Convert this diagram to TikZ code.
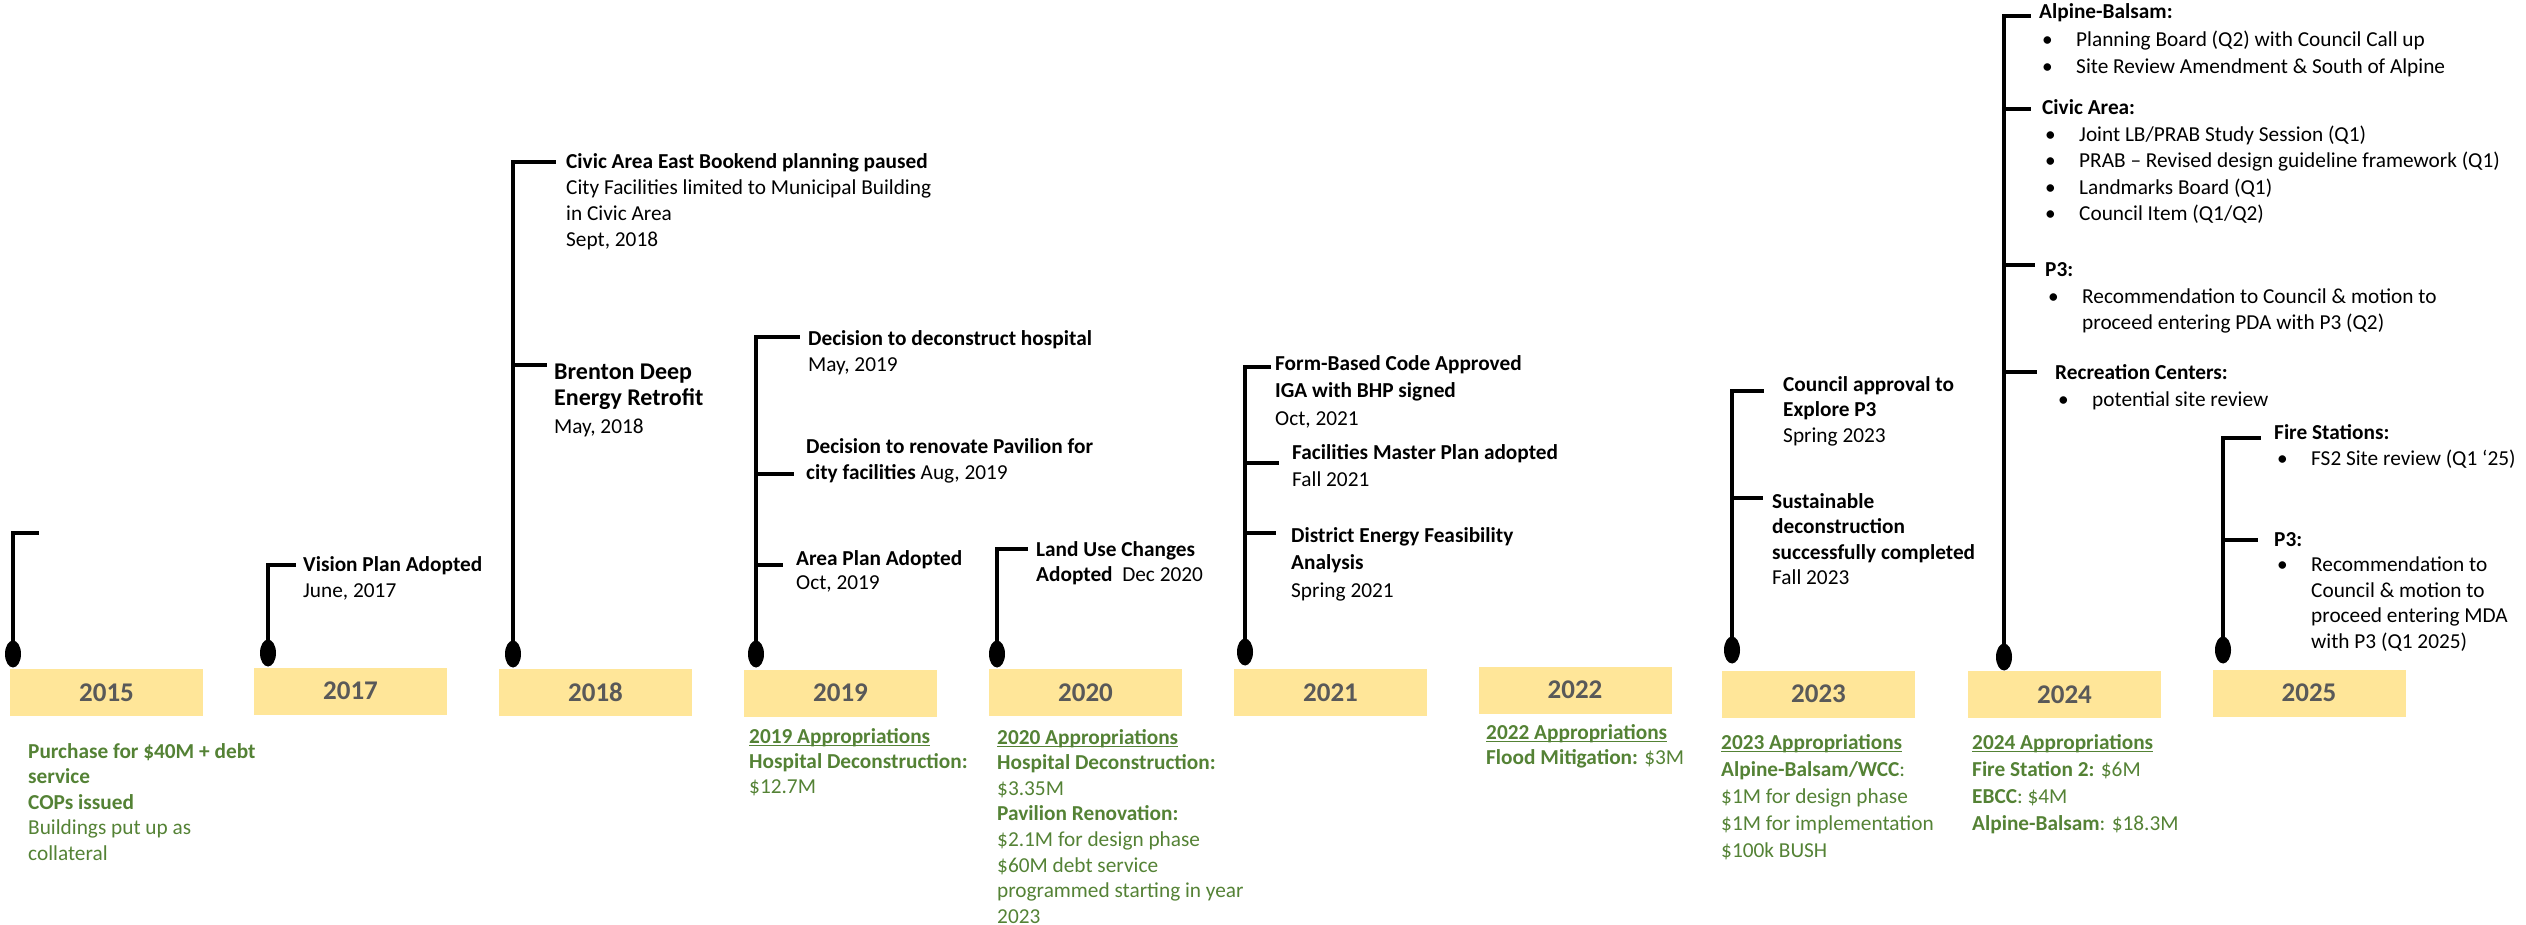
\documentclass[tikz,border=0pt]{standalone}
\usepackage{fontspec}
\setmainfont{Carlito}
\usetikzlibrary{shapes.geometric}
\definecolor{ygold}{HTML}{FFE699}
\definecolor{ygray}{HTML}{595959}
\definecolor{agreen}{HTML}{548235}
\newsavebox\ulbx
\newcommand\ultext[1]{\sbox\ulbx{#1}\rlap{\rule[-3pt]{\wd\ulbx}{1.5pt}}\usebox\ulbx}
\newcommand\bul{\hspace*{3pt}\makebox[34pt][l]{•}}
\newcommand\bulin{\hspace*{37pt}}
\newcommand\lines[1]{\begin{tabular}[t]{@{}l@{}}#1\end{tabular}}
\newcommand\fs[1]{\fontsize{21.3}{#1}\selectfont}
\begin{document}
\begin{tikzpicture}[x=1pt,y=-1pt,
  yearbox/.style={fill=ygold, minimum width=193pt, minimum height=47pt, inner sep=0pt, text=ygray, font=\fontsize{27}{30}\selectfont\bfseries},
  dotnode/.style={ellipse, fill=black, minimum width=16pt, minimum height=27pt, inner sep=0pt},
  stem/.style={line width=3.5pt},
  evtxt/.style={anchor=base west, inner sep=0pt, font=\fs{25.7}},
  grtxt/.style={evtxt, text=agreen},
]
\useasboundingbox (0,0) rectangle (2526,925);

% year boxes
\node[yearbox] (y15) at (106.5,692.5) {2015};
\node[yearbox] (y17) at (350.5,691) {2017};
\node[yearbox] (y18) at (595.5,692.5) {2018};
\node[yearbox] (y19) at (840.5,693) {2019};
\node[yearbox] (y20) at (1085.5,692.5) {2020};
\node[yearbox] (y21) at (1330.5,692.5) {2021};
\node[yearbox] (y22) at (1575,690) {2022};
\node[yearbox] (y23) at (1818.5,694) {2023};
\node[yearbox] (y24) at (2064.5,694.5) {2024};
\node[yearbox] (y25) at (2309,693) {2025};

% dots
\node[dotnode] (d15) at (13,654) {};
\node[dotnode] (d17) at (268,653) {};
\node[dotnode] (d18) at (513,654) {};
\node[dotnode] (d19) at (756,654) {};
\node[dotnode] (d20) at (997,654) {};
\node[dotnode] (d21) at (1245,652) {};
\node[dotnode] (d23) at (1732,650) {};
\node[dotnode] (d24) at (2004,657) {};
\node[dotnode] (d25) at (2223,650) {};

% branch ends
\coordinate (b15) at (39,533);
\coordinate (b17) at (296,565);
\coordinate (b18a) at (556,162);
\coordinate (b18b) at (547,365);
\coordinate (b19a) at (800,337);
\coordinate (b19b) at (794,474);
\coordinate (b19c) at (783,565);
\coordinate (b20) at (1028,549);
\coordinate (b21a) at (1271,367);
\coordinate (b21b) at (1279,463);
\coordinate (b21c) at (1276,533);
\coordinate (b23a) at (1764,391);
\coordinate (b23b) at (1763,498);
\coordinate (b24a) at (2031,16);
\coordinate (b24b) at (2031,109);
\coordinate (b24c) at (2035,265);
\coordinate (b24d) at (2037,372);
\coordinate (b25a) at (2261,438);
\coordinate (b25b) at (2258,540);

% stems
\draw[stem] (d15.center) |- (b15);
\draw[stem] (d17.center) |- (b17);
\draw[stem] (d18.center) |- (b18a);
\draw[stem] (b18b -| d18.center) -- (b18b);
\draw[stem] (d19.center) |- (b19a);
\draw[stem] (b19b -| d19.center) -- (b19b);
\draw[stem] (b19c -| d19.center) -- (b19c);
\draw[stem] (d20.center) |- (b20);
\draw[stem] (d21.center) |- (b21a);
\draw[stem] (b21b -| d21.center) -- (b21b);
\draw[stem] (b21c -| d21.center) -- (b21c);
\draw[stem] (d23.center) |- (b23a);
\draw[stem] (b23b -| d23.center) -- (b23b);
\draw[stem] (d24.center) |- (b24a);
\draw[stem] (b24b -| d24.center) -- (b24b);
\draw[stem] (b24c -| d24.center) -- (b24c);
\draw[stem] (b24d -| d24.center) -- (b24d);
\draw[stem] (d25.center) |- (b25a);
\draw[stem] (b25b -| d25.center) -- (b25b);

% event texts
\node[evtxt, font=\fs{26}] (e17) at (303,571) {\lines{\textbf{Vision Plan Adopted}\\June, 2017}};
\node[evtxt] (e18a) at (566,169) {\lines{\textbf{Civic Area East Bookend planning paused}\\City Facilities limited to Municipal Building\\in Civic Area\\Sept, 2018}};
\node[evtxt, font=\fontsize{24}{26.8}\selectfont\bfseries] (e18b) at (554,379) {\lines{Brenton Deep\\Energy Retrofit}};
\node[evtxt] (e18c) at (554,433) {May, 2018};
\node[evtxt, font=\fs{26}] (e19a) at (808,345) {\lines{\textbf{Decision to deconstruct hospital}\\May, 2019}};
\node[evtxt, font=\fs{26}] (e19b) at (806,453) {\lines{\textbf{Decision to renovate Pavilion for}\\\textbf{city facilities} Aug, 2019}};
\node[evtxt, font=\fs{24.5}] (e19c) at (796,565) {\lines{\textbf{Area Plan Adopted}\\Oct, 2019}};
\node[evtxt, font=\fs{25}] (e20) at (1036,556) {\lines{\textbf{Land Use Changes}\\\textbf{Adopted}\ \ Dec 2020}};
\node[evtxt, font=\fs{27.5}] (e21a) at (1275,370) {\lines{\textbf{Form-Based Code Approved}\\\textbf{IGA with BHP signed}\\Oct, 2021}};
\node[evtxt, font=\fs{27}] (e21b) at (1292,459) {\lines{\textbf{Facilities Master Plan adopted}\\Fall 2021}};
\node[evtxt, font=\fs{27.3}] (e21c) at (1291,542.5) {\lines{\textbf{District Energy Feasibility}\\\textbf{Analysis}\\Spring 2021}};
\node[evtxt, font=\fs{25.5}] (e23a) at (1783,391) {\lines{\textbf{Council approval to}\\\textbf{Explore P3}\\Spring 2023}};
\node[evtxt, font=\fs{25.6}] (e23b) at (1772,508) {\lines{\textbf{Sustainable}\\\textbf{deconstruction}\\\textbf{successfully completed}\\Fall 2023}};

% 2024 plans
\node[evtxt, font=\fs{27.2}] (e24a) at (2039,19) {\lines{\textbf{Alpine-Balsam:}\\\bul Planning Board (Q2) with Council Call up\\\bul Site Review Amendment \& South of Alpine}};
\node[evtxt, font=\fs{26.6}] (e24b) at (2042,114.5) {\lines{\textbf{Civic Area:}\\\bul Joint LB/PRAB Study Session (Q1)\\\bul PRAB – Revised design guideline framework (Q1)\\\bul Landmarks Board (Q1)\\\bul Council Item (Q1/Q2)}};
\node[evtxt, font=\fs{26.7}] (e24c) at (2045,276.5) {\lines{\textbf{P3:}\\\bul Recommendation to Council \& motion to\\\bulin proceed entering PDA with P3 (Q2)}};
\node[evtxt, font=\fs{27}] (e24d) at (2055,379) {\lines{\textbf{Recreation Centers:}\\\bul potential site review}};

% 2025 plans
\node[evtxt, font=\fs{26}] (e25a) at (2274,439) {\lines{\textbf{Fire Stations:}\\\bul FS2 Site review (Q1 ‘25)}};
\node[evtxt, font=\fs{25.5}] (e25b) at (2274,546) {\lines{\textbf{P3:}\\\bul Recommendation to\\\bulin Council \& motion to\\\bulin proceed entering MDA\\\bulin with P3 (Q1 2025)}};

% appropriations
\node[grtxt, font=\fs{25.5}] (g15) at (28,758) {\lines{\textbf{Purchase for \$40M + debt}\\\textbf{service}\\\textbf{COPs issued}\\Buildings put up as\\collateral}};
\node[grtxt, font=\fs{25}] (g19) at (749,743) {\lines{\textbf{\ultext{2019 Appropriations}}\\\textbf{Hospital Deconstruction:}\\\$12.7M}};
\node[grtxt, font=\fs{25.6}] (g20) at (997,744) {\lines{\textbf{\ultext{2020 Appropriations}}\\\textbf{Hospital Deconstruction:}\\\$3.35M\\\textbf{Pavilion Renovation:}\\\$2.1M for design phase\\\$60M debt service\\programmed starting in year\\2023}};
\node[grtxt, font=\fs{25}] (g22) at (1486,739) {\lines{\textbf{\ultext{2022 Appropriations}}\\\textbf{Flood Mitigation:} \$3M}};
\node[grtxt, font=\fs{27.2}] (g23) at (1721,749) {\lines{\textbf{\ultext{2023 Appropriations}}\\\textbf{Alpine-Balsam/WCC}:\\\$1M for design phase\\\$1M for implementation\\\$100k BUSH}};
\node[grtxt, font=\fs{27.2}] (g24) at (1972,749) {\lines{\textbf{\ultext{2024 Appropriations}}\\\textbf{Fire Station 2:} \$6M\\\textbf{EBCC}: \$4M\\\textbf{Alpine-Balsam}: \$18.3M}};
\end{tikzpicture}
\end{document}
